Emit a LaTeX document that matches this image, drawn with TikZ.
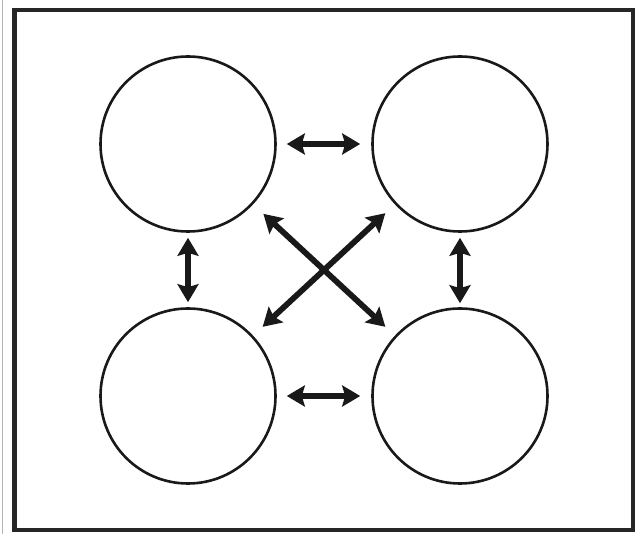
\documentclass[tikz,border=0pt]{standalone}
\usetikzlibrary{arrows.meta}
\begin{document}
\begin{tikzpicture}[x=1pt,y=-1pt,
  ring/.style={circle,draw=black!90,line width=2.6pt,minimum size=175pt,inner sep=0pt},
  link/.style={line width=5.8pt,draw=black!90,
    {Stealth[length=18pt,width=21pt,inset=3pt]}-{Stealth[length=18pt,width=21pt,inset=3pt]}},
  frame/.style={draw=black!85,line width=4.5pt}]
\useasboundingbox (0,0) rectangle (643,534);
\fill[white] (0,0) rectangle (643,534);
\draw[black!30,line width=1.5pt] (2.5,0) -- (2.5,534);
\draw[frame] (14.5,10) rectangle (633,530);
\node[ring] (tl) at (188,144) {};
\node[ring] (tr) at (460,144) {};
\node[ring] (bl) at (188,396) {};
\node[ring] (br) at (460,396) {};
\draw[link,shorten <=10pt,shorten >=11pt] (tl) -- (tr);
\draw[link,shorten <=10pt,shorten >=11pt] (bl) -- (br);
\draw[link,shorten <=5pt,shorten >=5pt] (tl) -- (bl);
\draw[link,shorten <=5pt,shorten >=4pt] (tr) -- (br);
\draw[link,shorten <=14pt,shorten >=13pt] (tl) -- (br);
\draw[link,shorten <=13pt,shorten >=13pt] (tr) -- (bl);
\end{tikzpicture}
\end{document}
